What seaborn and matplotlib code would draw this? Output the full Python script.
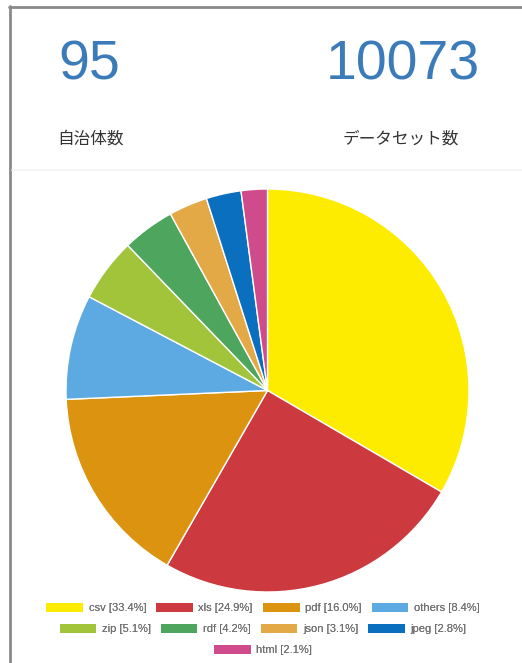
import matplotlib
matplotlib.use("Agg")
import matplotlib.pyplot as plt
import matplotlib.patches as mpatches
import seaborn as sns

# Dataset format shares (%)
formats = ["csv", "xls", "pdf", "others", "zip", "rdf", "json", "jpeg", "html"]
shares = [33.4, 24.9, 16.0, 8.4, 5.1, 4.2, 3.1, 2.8, 2.1]
colors = ["#fdec00", "#cc3a40", "#dc9410", "#5daae2", "#a2c43a",
          "#4ea55e", "#e4a947", "#0a6fbf", "#cf4b8c"]

# Summary counts shown above the chart
municipality_count = "95"
dataset_count = "10073"
municipality_label = "自治体数"
dataset_label = "データセット数"

sns.set_theme(style="white")
plt.rcParams["font.family"] = ["Noto Sans CJK JP", "DejaVu Sans"]

W, H = 522, 663
fig = plt.figure(figsize=(W / 100, H / 100), dpi=100)
fig.patch.set_facecolor("white")

def fx(px):
    return px / W

def fy(py):
    return 1 - py / H

# Panel frame lines (left and top)
fig.add_artist(plt.Line2D([fx(9.5), fx(9.5)], [fy(6), fy(H)], color="#8a8a8a", lw=2.0))
fig.add_artist(plt.Line2D([fx(8.5), fx(W)], [fy(6.5), fy(6.5)], color="#8a8a8a", lw=2.0))
# Divider under the counters
fig.add_artist(plt.Line2D([fx(12), fx(W)], [fy(170), fy(170)], color="#f2f2f2", lw=1.2))

num_color = "#3b7bb9"
num_font = ["Liberation Sans", "DejaVu Sans"]
fig.text(fx(58), fy(79), municipality_count, fontsize=40, color=num_color,
         ha="left", va="baseline", family=num_font)
fig.text(fx(480), fy(79), dataset_count, fontsize=40, color=num_color,
         ha="right", va="baseline", family=num_font)
fig.text(fx(57), fy(139), municipality_label, fontsize=12, color="#333333",
         ha="left", va="center")
fig.text(fx(459), fy(139), dataset_label, fontsize=12, color="#333333",
         ha="right", va="center")

# Pie chart
cx, cy, r = 267.5, 390.5, 201.5
ax = fig.add_axes([fx(cx - r), fy(cy + r), 2 * r / W, 2 * r / H])
ax.pie(shares, colors=colors, startangle=90, counterclock=False, radius=1,
       wedgeprops=dict(edgecolor="white", linewidth=1.0))
ax.set_xlim(-1, 1)
ax.set_ylim(-1, 1)
ax.set_aspect("auto")
ax.axis("off")

# Legend in three centred rows
labels = [f"{f} [{s:.1f}%]" for f, s in zip(formats, shares)]
handles = [mpatches.Patch(facecolor=c, edgecolor="none") for c in colors]
rows = [(0, 4, 608), (4, 8, 629), (8, 9, 650)]
for start, end, ypx in rows:
    leg = fig.legend(handles[start:end], labels[start:end], ncol=end - start,
                     loc="center", bbox_to_anchor=(fx(263), fy(ypx)),
                     frameon=False, handlelength=3.3, handleheight=0.95,
                     handletextpad=0.5, columnspacing=0.9,
                     prop={"family": ["Liberation Sans", "DejaVu Sans"], "size": 8})
    for t in leg.get_texts():
        t.set_color("#707070")
    fig.add_artist(leg)

fig.savefig("out.png", dpi=100, facecolor="white")
